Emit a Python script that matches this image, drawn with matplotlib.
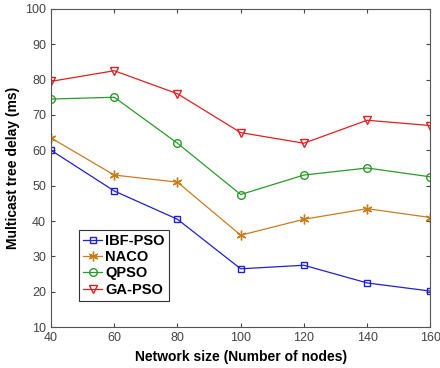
import matplotlib
matplotlib.use("Agg")
import matplotlib.pyplot as plt

plt.rcParams['font.family'] = ['Liberation Sans', 'DejaVu Sans']

nodes = [40, 60, 80, 100, 120, 140, 160]
ibf_pso = [60, 48.5, 40.5, 26.5, 27.5, 22.5, 20.2]
naco = [63.5, 53, 51, 36, 40.5, 43.5, 41]
qpso = [74.5, 75, 62, 47.5, 53, 55, 52.5]
ga_pso = [79.5, 82.5, 76, 65, 62, 68.5, 67]

fig = plt.figure(figsize=(4.4, 3.68), dpi=100)
ax = fig.add_axes([0.116, 0.111, 0.862, 0.865])

ax.plot(nodes, ibf_pso, color='#2020d0', marker='s', mfc='none', ms=5, lw=0.9, label='IBF-PSO')
ax.plot(nodes, naco, color='#c87d1e', marker=(6, 2, 0), ms=7, mew=1, lw=0.9, label='NACO')
ax.plot(nodes, qpso, color='#2a9a2a', marker='o', mfc='none', ms=5.5, lw=0.9, label='QPSO')
ax.plot(nodes, ga_pso, color='#e02020', marker='v', mfc='none', ms=6, lw=0.9, label='GA-PSO')

ax.set_xlim(40, 160)
ax.set_ylim(10, 100)
ax.set_xticks(nodes)
ax.set_yticks(range(10, 101, 10))
ax.tick_params(direction='in', top=True, right=True, labelsize=9, colors='#444444', length=3)
for s in ax.spines.values():
    s.set_color('#555555')

ax.set_xlabel('Network size (Number of nodes)', fontsize=10, fontweight='bold')
ax.set_ylabel('Multicast tree delay (ms)', fontsize=10, fontweight='bold')

leg = ax.legend(loc='lower left', bbox_to_anchor=(0.074, 0.082), borderaxespad=0,
                fancybox=False, edgecolor='black', prop={'weight': 'bold', 'size': 10.5},
                handlelength=1.3, borderpad=0.3, labelspacing=0.15, handletextpad=0.2)
leg.get_frame().set_linewidth(0.8)

fig.savefig('out.png', dpi=100)
